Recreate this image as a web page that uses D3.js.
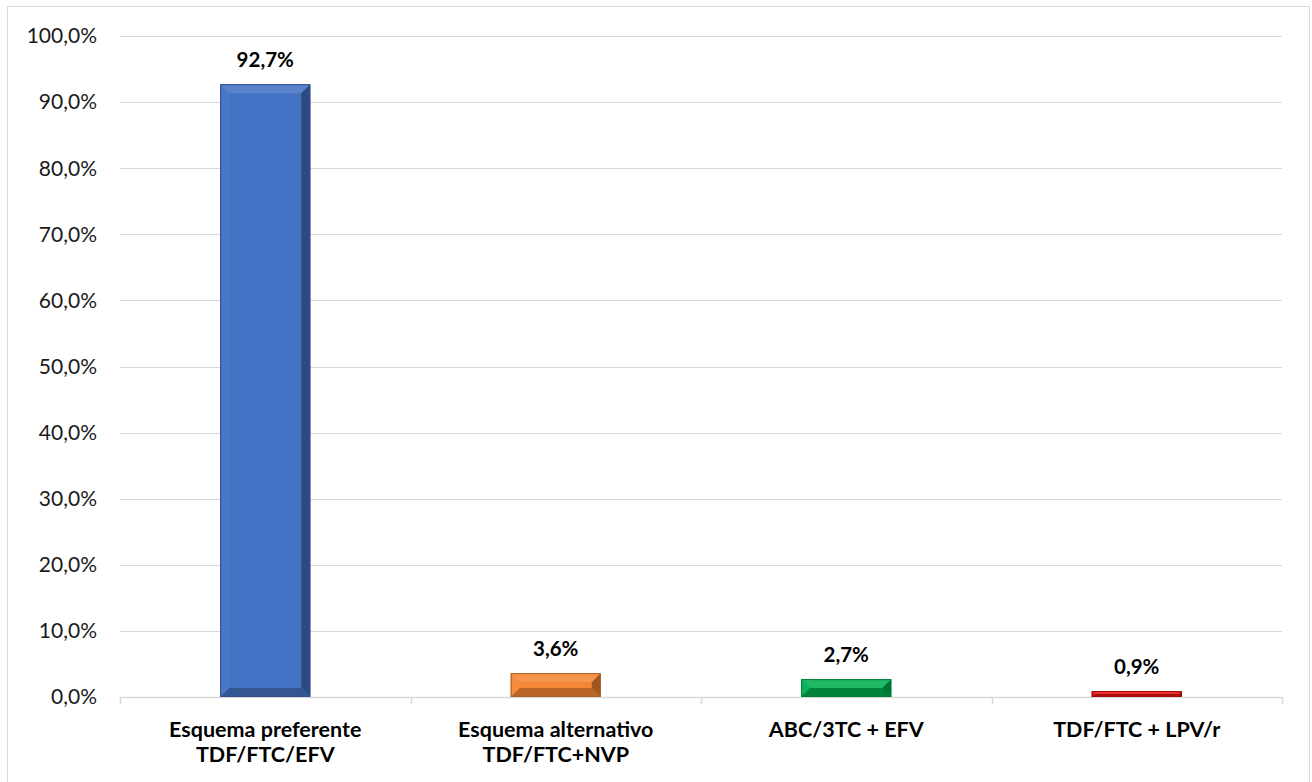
<!DOCTYPE html>
<html>
<head>
<meta charset="utf-8">
<script src="https://cdn.jsdelivr.net/npm/d3@7"></script>
<style>
  html, body { margin: 0; padding: 0; background: #fff; }
  svg { display: block; font-family: Lato, "Open Sans", sans-serif; }
</style>
</head>
<body>
<svg id="chart" width="1312" height="782"></svg>
<script>
// Regimen shares (percent)
const categories = [
  ["Esquema preferente", "TDF/FTC/EFV"],
  ["Esquema alternativo", "TDF/FTC+NVP"],
  ["ABC/3TC + EFV"],
  ["TDF/FTC + LPV/r"]
];
const values = [92.7, 3.6, 2.7, 0.9];
const colors = ["#4472C4", "#F58634", "#00B050", "#E81010"];
const yTicks = [0, 10, 20, 30, 40, 50, 60, 70, 80, 90, 100];

const svg = d3.select("#chart");
const W = 1312, H = 782;
const margin = { left: 120, right: 30, top: 36, bottom: 85 };
const plotW = W - margin.left - margin.right;
const plotH = H - margin.top - margin.bottom;

// outer chart frame
svg.append("rect")
  .attr("x", 7.5).attr("y", 6.5)
  .attr("width", 1302).attr("height", 790)
  .attr("fill", "#fff").attr("stroke", "#d9d9d9");

const g = svg.append("g").attr("transform", `translate(${margin.left},${margin.top})`);

const x = d3.scaleBand().domain(d3.range(categories.length)).range([0, plotW]).paddingInner(0.69).paddingOuter(0.345);
const xCat = d3.scaleBand().domain(d3.range(categories.length)).range([0, plotW]);
const y = d3.scaleLinear().domain([0, 100]).range([plotH, 0]);

const fmt = v => d3.format(".1f")(v).replace(".", ",") + "%";

// gridlines
g.append("g").selectAll("line").data(yTicks).join("line")
  .attr("x1", 0).attr("x2", plotW)
  .attr("y1", d => Math.round(y(d)) + 0.5).attr("y2", d => Math.round(y(d)) + 0.5)
  .attr("stroke", "#d9d9d9").attr("stroke-width", 1);

// y tick labels
g.append("g").selectAll("text").data(yTicks).join("text")
  .attr("x", -23).attr("y", d => y(d))
  .attr("dy", "0.35em").attr("text-anchor", "end")
  .attr("font-size", 21).attr("fill", "#1a1a1a")
  .text(d => fmt(d));

// x axis line and category ticks
g.append("line").attr("x1", 0).attr("x2", plotW)
  .attr("y1", plotH + 0.5).attr("y2", plotH + 0.5)
  .attr("stroke", "#d9d9d9").attr("stroke-width", 1.5);
g.append("g").selectAll("line").data(d3.range(categories.length + 1)).join("line")
  .attr("x1", i => Math.round(i * xCat.step()) + 0.5)
  .attr("x2", i => Math.round(i * xCat.step()) + 0.5)
  .attr("y1", plotH).attr("y2", plotH + 7)
  .attr("stroke", "#d9d9d9").attr("stroke-width", 1.5);

// bevelled bars
const bars = g.append("g").selectAll("g").data(values).join("g");
bars.each(function (v, i) {
  const bx = x(i), bw = x.bandwidth();
  const by = y(v), bh = y(0) - y(v);
  const b = Math.min(9, bh / 2, bw / 2);
  const base = d3.color(colors[i]);
  const gr = d3.select(this);
  const x0 = bx, x1 = bx + bw, y0 = by, y1 = by + bh;
  // face
  gr.append("rect").attr("x", x0).attr("y", y0).attr("width", bw).attr("height", bh).attr("fill", base);
  const poly = (pts, fill) => gr.append("polygon").attr("points", pts.map(p => p.join(",")).join(" ")).attr("fill", fill);
  // top edge
  poly([[x0, y0], [x1, y0], [x1 - b, y0 + b], [x0 + b, y0 + b]], d3.interpolateRgb(base, "#fff")(0.12));
  // left edge
  poly([[x0, y0], [x0 + b, y0 + b], [x0 + b, y1 - b], [x0, y1]], d3.interpolateRgb(base, "#fff")(0.04));
  // right edge
  poly([[x1, y0], [x1, y1], [x1 - b, y1 - b], [x1 - b, y0 + b]], d3.interpolateRgb(base, "#000")(0.35));
  // bottom edge
  poly([[x0, y1], [x1, y1], [x1 - b, y1 - b], [x0 + b, y1 - b]], d3.interpolateRgb(base, "#000")(0.25));
  gr.append("rect").attr("x", x0 + 0.5).attr("y", y0 + 0.5).attr("width", bw - 1).attr("height", Math.max(0, bh - 1))
    .attr("fill", "none").attr("stroke", d3.interpolateRgb(base, "#000")(0.3)).attr("stroke-width", 1);
});

// value labels
g.append("g").selectAll("text").data(values).join("text")
  .attr("x", (d, i) => x(i) + x.bandwidth() / 2)
  .attr("y", d => y(d) - 17)
  .attr("text-anchor", "middle")
  .attr("font-size", 20.5).attr("font-weight", "bold").attr("fill", "#000")
  .text(d => fmt(d));

// category labels
const cl = g.append("g").selectAll("text").data(categories).join("text")
  .attr("x", (d, i) => xCat(i) + xCat.bandwidth() / 2)
  .attr("y", plotH + 40)
  .attr("text-anchor", "middle")
  .attr("font-size", 21.5).attr("font-weight", "bold").attr("fill", "#000");
cl.selectAll("tspan").data(d => d).join("tspan")
  .attr("x", function () { return d3.select(this.parentNode).attr("x"); })
  .attr("dy", (d, j) => j === 0 ? 0 : 25)
  .text(d => d);
</script>
</body>
</html>
